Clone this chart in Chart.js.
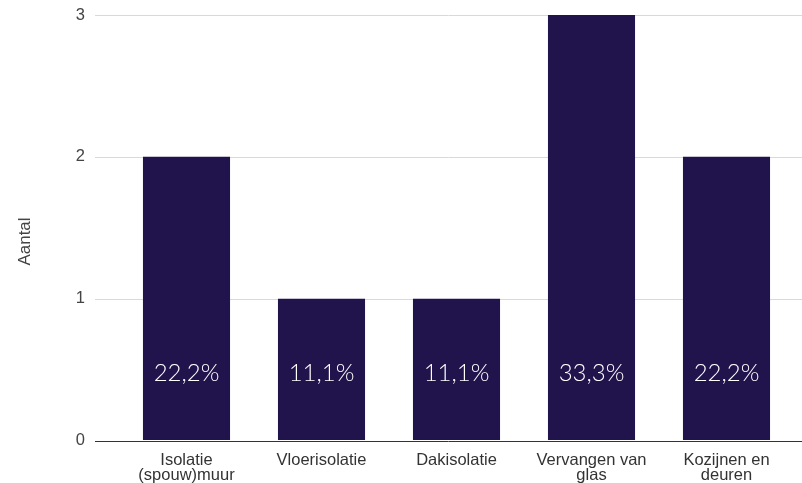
<!DOCTYPE html>
<html>
<head>
<meta charset="utf-8">
<script src="https://cdn.jsdelivr.net/npm/chart.js@4.4.1/dist/chart.umd.min.js"></script>
<style>
  html, body { margin: 0; padding: 0; background: #fff; overflow: hidden; }
</style>
</head>
<body>
<canvas id="chart" width="802" height="483"></canvas>
<script>
const categories = [
  ["Isolatie", "(spouw)muur"],
  "Vloerisolatie",
  "Dakisolatie",
  ["Vervangen van", "glas"],
  ["Kozijnen en", "deuren"]
];
const counts = [2, 1, 1, 3, 2];
const percentLabels = ["22,2%", "11,1%", "11,1%", "33,3%", "22,2%"];
const yTicks = [0, 1, 2, 3];

const barColor = "#21134c";

// grid lines and the axis line run wider than the plot area, so we draw them ourselves
const gridPlugin = {
  id: "gridLines",
  beforeDatasetsDraw(chart) {
    const ctx = chart.ctx;
    const y = chart.scales.y;
    ctx.save();
    yTicks.forEach(t => {
      const py = Math.round(y.getPixelForValue(t)) + 0.5;
      ctx.strokeStyle = t === 0 ? "#333333" : "#d9d9d9";
      ctx.lineWidth = 1;
      ctx.beginPath();
      ctx.moveTo(95, py);
      ctx.lineTo(chart.width, py);
      ctx.stroke();
    });
    ctx.restore();
  },
  afterDatasetsDraw(chart) {
    const ctx = chart.ctx;
    const y = chart.scales.y;
    const meta = chart.getDatasetMeta(0);
    ctx.save();
    // percentage labels inside the bars
    ctx.fillStyle = "#ffffff";
    ctx.font = "300 24px Lato";
    ctx.textAlign = "center";
    ctx.textBaseline = "middle";
    meta.data.forEach((bar, i) => {
      ctx.fillText(percentLabels[i], bar.x, y.getPixelForValue(0.475));
    });
    // axis title, centred on the canvas height
    ctx.fillStyle = "#444444";
    ctx.font = "17px 'Liberation Sans', Arial";
    ctx.translate(25, chart.height / 2);
    ctx.rotate(-Math.PI / 2);
    ctx.fillText("Aantal", 0, 0);
    ctx.restore();
  }
};

new Chart(document.getElementById("chart"), {
  type: "bar",
  data: {
    labels: categories,
    datasets: [{
      label: "Aantal",
      data: counts,
      backgroundColor: barColor,
      barPercentage: 0.645,
      categoryPercentage: 1
    }]
  },
  options: {
    responsive: false,
    animation: false,
    layout: { padding: { top: 15, right: 8, left: 0, bottom: 0 } },
    plugins: {
      legend: { display: false },
      tooltip: { enabled: false }
    },
    scales: {
      x: {
        grid: { display: false },
        border: { display: false },
        ticks: {
          color: "#333333",
          font: { family: "'Liberation Sans', Arial", size: 16.5, lineHeight: 0.9 },
          padding: 5,
          maxRotation: 0,
          autoSkip: false
        },
        afterFit(s) { s.height = 42.5; }
      },
      y: {
        min: 0,
        max: 3,
        grid: { display: true, drawOnChartArea: false, drawTicks: true, tickLength: 29, color: "transparent" },
        border: { display: false },
        ticks: {
          stepSize: 1,
          color: "#444444",
          font: { family: "'Liberation Sans', Arial", size: 16.5 },
          padding: 5
        },
        afterFit(s) { s.width = 119; }
      }
    }
  },
  plugins: [gridPlugin]
});
</script>
</body>
</html>
